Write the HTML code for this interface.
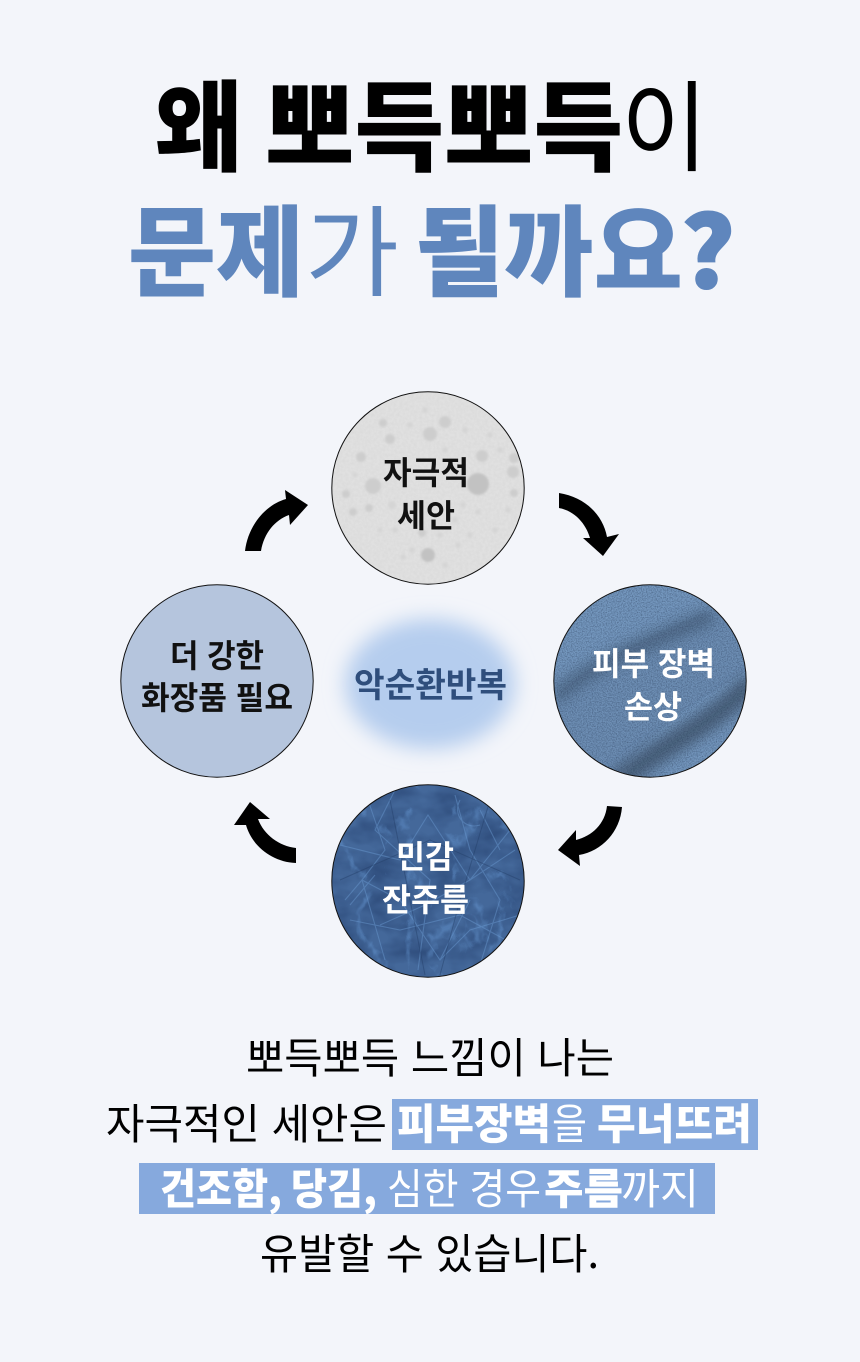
<!DOCTYPE html>
<html lang="ko"><head><meta charset="utf-8"><title>왜 뽀득뽀득이 문제가 될까요?</title>
<style>
html,body{margin:0;padding:0;background:#f3f5fa}
svg{display:block}
text{font-family:"Noto Sans CJK KR","Liberation Sans",sans-serif}
</style></head><body>
<svg xmlns="http://www.w3.org/2000/svg" width="860" height="1362" viewBox="0 0 860 1362">
<defs>
<filter id="blur" x="-40%" y="-40%" width="180%" height="180%"><feGaussianBlur stdDeviation="10"/></filter>
<filter id="soft" x="-30%" y="-30%" width="160%" height="160%"><feGaussianBlur stdDeviation="1.1"/></filter>
<filter id="band" x="-30%" y="-30%" width="160%" height="160%"><feGaussianBlur stdDeviation="6"/></filter>
<filter id="grainL" color-interpolation-filters="sRGB"><feTurbulence type="fractalNoise" baseFrequency="0.35" numOctaves="3" seed="3"/><feColorMatrix values="0 0 0 0 0.55 0 0 0 0 0.55 0 0 0 0 0.55 0.9 0 0 0 -0.3"/></filter>
<filter id="grainD" color-interpolation-filters="sRGB"><feTurbulence type="fractalNoise" baseFrequency="0.8" numOctaves="2" seed="8"/><feColorMatrix values="0 0 0 0 0.15 0 0 0 0 0.22 0 0 0 0 0.33 2 0 0 0 -0.75"/></filter>
<filter id="grainW" color-interpolation-filters="sRGB"><feTurbulence type="fractalNoise" baseFrequency="0.03 0.05" numOctaves="3" seed="12"/><feColorMatrix values="0 0 0 0 0.16 0 0 0 0 0.27 0 0 0 0 0.45 2 0 0 0 -0.7"/></filter>
<filter id="veins" color-interpolation-filters="sRGB"><feTurbulence type="turbulence" baseFrequency="0.022 0.016" numOctaves="4" seed="21"/><feColorMatrix values="0 0 0 0 0.45 0 0 0 0 0.66 0 0 0 0 0.9 -8 0 0 0 1.5"/></filter>
<clipPath id="c1"><circle cx="428" cy="488" r="96"/></clipPath>
<clipPath id="c2"><circle cx="650" cy="681" r="96"/></clipPath>
<clipPath id="c3"><circle cx="428" cy="881" r="96"/></clipPath>
</defs>
<rect width="860" height="1362" fill="#f3f5fa"/>

<!-- Title -->
<g font-size="99">
<text x="155" y="163" font-weight="900" fill="#000" textLength="87" lengthAdjust="spacingAndGlyphs">왜</text>
<text x="265" y="163" font-weight="900" fill="#000" textLength="358" lengthAdjust="spacingAndGlyphs">뽀득뽀득</text>
<text x="621" y="163" font-weight="400" fill="#000" textLength="87" lengthAdjust="spacingAndGlyphs">이</text>
<text x="128" y="288" font-weight="900" fill="#5f86bd" textLength="176" lengthAdjust="spacingAndGlyphs">문제</text>
<text x="305" y="288" font-weight="400" fill="#5f86bd" textLength="94" lengthAdjust="spacingAndGlyphs">가</text>
<text x="415" y="288" font-weight="900" fill="#5f86bd" textLength="268" lengthAdjust="spacingAndGlyphs">될까요</text>
<text x="681" y="288" font-weight="900" fill="#5f86bd" stroke="#5f86bd" stroke-width="2" textLength="54" lengthAdjust="spacingAndGlyphs">?</text>
</g>

<!-- Glow -->
<ellipse cx="430" cy="684" rx="85" ry="65" fill="#b5cdee" filter="url(#blur)"/>
<text x="354" y="697" font-size="34" font-weight="700" fill="#2f4e7c" textLength="153" lengthAdjust="spacingAndGlyphs">악순환반복</text>

<!-- Top circle -->
<g clip-path="url(#c1)">
<rect x="330" y="390" width="196" height="196" fill="#e0e0e0"/>
<rect x="330" y="390" width="196" height="196" filter="url(#grainL)" opacity=".12"/>
<g fill="#cdcdcd" filter="url(#soft)">
<circle cx="445" cy="422" r="6"/><circle cx="430" cy="434" r="7"/><circle cx="390" cy="439" r="5"/><circle cx="383" cy="423" r="4"/>
<circle cx="361" cy="457" r="5"/><circle cx="373" cy="486" r="8"/><circle cx="346" cy="494" r="4"/><circle cx="369" cy="508" r="4"/><circle cx="353" cy="512" r="4"/>
<circle cx="482" cy="456" r="6"/><circle cx="478" cy="484" r="11" fill="#c2c2c2"/><circle cx="513" cy="472" r="6"/><circle cx="514" cy="458" r="5"/><circle cx="514" cy="493" r="4"/>
<circle cx="422" cy="533" r="4"/><circle cx="428" cy="555" r="7" fill="#c2c2c2"/>
</g>
<g fill="#d5d5d5" filter="url(#soft)">
<circle cx="403" cy="557" r="3"/><circle cx="455" cy="520" r="3"/><circle cx="490" cy="435" r="3"/><circle cx="478" cy="512" r="3"/>
<circle cx="445" cy="450" r="3"/><circle cx="400" cy="462" r="3"/><circle cx="508" cy="510" r="3"/><circle cx="458" cy="545" r="3"/><circle cx="395" cy="530" r="3"/>
<circle cx="410" cy="425" r="3"/><circle cx="465" cy="430" r="3"/><circle cx="355" cy="475" r="2.5"/><circle cx="392" cy="505" r="4"/><circle cx="463" cy="505" r="3"/>
<circle cx="380" cy="530" r="2.5"/><circle cx="440" cy="535" r="3"/><circle cx="470" cy="535" r="3"/><circle cx="495" cy="530" r="3"/><circle cx="412" cy="550" r="3"/><circle cx="445" cy="565" r="3"/><circle cx="425" cy="410" r="3"/><circle cx="500" cy="450" r="3"/>
</g>
</g>
<circle cx="428" cy="488" r="96.2" fill="none" stroke="#111" stroke-width="1"/>
<g font-size="32" font-weight="700" fill="#111">
<text x="383" y="484" textLength="86" lengthAdjust="spacingAndGlyphs">자극적</text>
<text x="397" y="527" textLength="58" lengthAdjust="spacingAndGlyphs">세안</text>
</g>

<!-- Left circle -->
<circle cx="217" cy="681" r="96.2" fill="#b5c5dd" stroke="#111" stroke-width="1"/>
<g font-size="32" font-weight="700" fill="#111">
<text x="170" y="667" textLength="94" lengthAdjust="spacingAndGlyphs">더 강한</text>
<text x="141" y="709" textLength="152" lengthAdjust="spacingAndGlyphs">화장품 필요</text>
</g>

<!-- Right circle -->
<g clip-path="url(#c2)">
<rect x="552" y="583" width="196" height="196" fill="#7598bf"/>
<path d="M552 700C590 660 650 636 715 608L750 650L745 672C700 700 650 730 615 778L552 778Z" fill="#6e8fb5"/>
<path d="M555 697C590 664 650 642 712 615" fill="none" stroke="#435a75" stroke-width="17" opacity=".6" filter="url(#band)"/>
<path d="M618 782C660 746 712 726 752 682" fill="none" stroke="#3a4d64" stroke-width="22" opacity=".7" filter="url(#band)"/>
<rect x="552" y="583" width="196" height="196" filter="url(#grainD)" opacity=".5"/>
</g>
<circle cx="650" cy="681" r="96.2" fill="none" stroke="#111" stroke-width="1"/>
<g font-size="32" font-weight="700" fill="#fff">
<text x="592" y="675" textLength="123" lengthAdjust="spacingAndGlyphs">피부 장벽</text>
<text x="624" y="718" textLength="58" lengthAdjust="spacingAndGlyphs">손상</text>
</g>

<!-- Bottom circle -->
<g clip-path="url(#c3)">
<rect x="330" y="783" width="196" height="196" fill="#44689a"/>
<rect x="330" y="783" width="196" height="196" filter="url(#grainW)" opacity=".7"/>
<rect x="330" y="783" width="196" height="196" filter="url(#veins)" opacity=".32"/>
<g fill="none" stroke="#6c9bd2" stroke-width="1.1" opacity=".45">
<path d="M340 845L400 860L428 815L470 880L515 850"/>
<path d="M345 900L362 880L400 900L440 960L470 930L520 915"/>
<path d="M368 800L385 850L362 880L385 960"/>
<path d="M395 790L375 830L430 880L418 970"/>
<path d="M455 795L470 850L500 900L480 965"/>
<path d="M460 800C452 815 465 830 480 825"/>
<path d="M510 830L470 880L425 905L380 925"/>
<path d="M350 920L400 930L460 915L515 945"/>
<path d="M375 875L350 905M470 900L440 960M480 810L500 850"/>
</g>
<g fill="none" stroke="#243f68" stroke-width="1" opacity=".45">
<path d="M390 800L410 900L425 975"/><path d="M490 800L460 900L440 975"/><path d="M340 880L430 840L520 880"/>
</g>
</g>
<circle cx="428" cy="881" r="96.2" fill="none" stroke="#111" stroke-width="1"/>
<g font-size="32" font-weight="700" fill="#fff">
<text x="396" y="868" textLength="58" lengthAdjust="spacingAndGlyphs">민감</text>
<text x="382" y="911" textLength="87" lengthAdjust="spacingAndGlyphs">잔주름</text>
</g>

<!-- Arrows -->
<g fill="#000">
<path d="M245 551C248 526 265 505 286 499L285 490L308 505L290 525L289 515C275 520 264 533 261 551Z"/>
<path d="M559 493C585 497 603 515 607 537L619 534L603 556L583 538L590 538C586 524 575 511 559 508Z"/>
<path d="M622 807C620 832 602 851 579 855L580 866L558 850L576 830L576 840C592 836 605 824 607 806Z"/>
<path d="M296 848C279 846 264 835 258 819L270 819L250 802L234 825L246 825C252 846 272 862 296 863Z"/>
</g>

<!-- Body -->
<rect x="392" y="1099" width="366" height="51" fill="#86a9dd"/>
<rect x="139" y="1163" width="576" height="51" fill="#86a9dd"/>
<g font-size="42" font-weight="400" fill="#000">
<text x="246" y="1073" textLength="368" lengthAdjust="spacingAndGlyphs">뽀득뽀득 느낌이 나는</text>
<text x="106" y="1139" textLength="281" lengthAdjust="spacingAndGlyphs">자극적인 세안은</text>
<text x="260" y="1269" textLength="339" lengthAdjust="spacingAndGlyphs">유발할 수 있습니다.</text>
</g>
<g font-size="42" fill="#fff">
<text x="397" y="1139" font-weight="900" textLength="154" lengthAdjust="spacingAndGlyphs">피부장벽</text>
<text x="552" y="1139" font-weight="400" textLength="35" lengthAdjust="spacingAndGlyphs">을</text>
<text x="597" y="1139" font-weight="900" textLength="155" lengthAdjust="spacingAndGlyphs">무너뜨려</text>
<text x="160" y="1204" font-weight="900" textLength="122" lengthAdjust="spacingAndGlyphs">건조함,</text>
<text x="291" y="1204" font-weight="900" textLength="86" lengthAdjust="spacingAndGlyphs">당김,</text>
<text x="387" y="1204" font-weight="400" textLength="154" lengthAdjust="spacingAndGlyphs">심한 경우</text>
<text x="544" y="1204" font-weight="900" textLength="79" lengthAdjust="spacingAndGlyphs">주름</text>
<text x="621" y="1204" font-weight="400" textLength="78" lengthAdjust="spacingAndGlyphs">까지</text>
</g>
</svg>
</body></html>
